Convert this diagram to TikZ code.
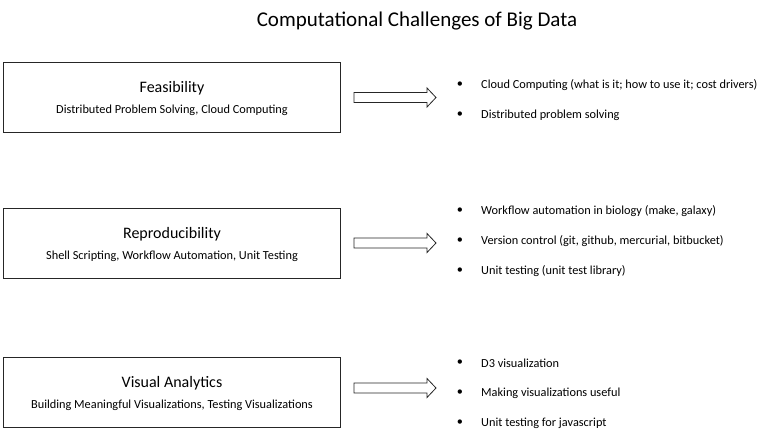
\documentclass[tikz,border=0pt]{standalone}
\usepackage{fontspec}
\setmainfont{Carlito}
\tikzset{
  topic/.style={draw=black!85, line width=1pt, minimum width=337pt, minimum height=70pt, inner sep=0pt, anchor=west},
  topictitle/.style={font=\fontsize{16}{19}\selectfont, inner sep=0pt},
  topicsub/.style={font=\fontsize{12.3}{14}\selectfont, inner sep=0pt},
  dot/.style={font=\fontsize{12.3}{14}\selectfont, inner sep=0pt},
  item/.style={anchor=west, font=\fontsize{12.3}{14}\selectfont, inner sep=0pt},
  blockarrow/.style={draw=black!85, line width=0.8pt, fill=white, line join=miter},
}
\begin{document}
\begin{tikzpicture}[x=1pt, y=-1pt]
                \useasboundingbox (0,0) rectangle (760,431);

                \node[font=\fontsize{21}{25}\selectfont] (title) at (417,21) {Computational Challenges of Big Data};

                % the three topics
                \node[topic] (feas) at (3,97) {};
                \node[topictitle] (feastitle) at ([yshift=9pt]feas.center) {Feasibility};
                \node[topicsub] (feassub) at ([yshift=-13pt]feas.center) {Distributed Problem Solving, Cloud Computing};

                \node[topic] (repro) at (3,243.5) {};
                \node[topictitle] (reprotitle) at ([yshift=9pt]repro.center) {Reproducibility};
                \node[topicsub] (reprosub) at ([yshift=-13pt]repro.center) {Shell Scripting, Workflow Automation, Unit Testing};

                \node[topic] (vis) at (3,392) {};
                \node[topictitle] (vistitle) at ([yshift=9pt]vis.center) {Visual Analytics};
                \node[topicsub] (vissub) at ([yshift=-13pt]vis.center) {Building Meaningful Visualizations, Testing Visualizations};

                % block arrows
                \coordinate (feasarr) at (354,97.5);
                \coordinate (reproarr) at (354,243);
                \coordinate (visarr) at (354,388);
                \draw[blockarrow] (feasarr) ++(0,-5) -- ++(73,0) -- ++(0,-4.5) -- ++(9,9.5) -- ++(-9,9.5) -- ++(0,-4.5) -- ++(-73,0) -- cycle;
                \draw[blockarrow] (reproarr) ++(0,-5) -- ++(73,0) -- ++(0,-4.5) -- ++(9,9.5) -- ++(-9,9.5) -- ++(0,-4.5) -- ++(-73,0) -- cycle;
                \draw[blockarrow] (visarr) ++(0,-5) -- ++(73,0) -- ++(0,-4.5) -- ++(9,9.5) -- ++(-9,9.5) -- ++(0,-4.5) -- ++(-73,0) -- cycle;

                % bullet lists
                \node[dot] (f1b) at (460,85) {\textbullet};
                \node[item] (f1) at (481,85) {Cloud Computing (what is it; how to use it; cost drivers)};
                \node[dot] (f2b) at (460,115) {\textbullet};
                \node[item] (f2) at (481,115) {Distributed problem solving};

                \node[dot] (r1b) at (460,211) {\textbullet};
                \node[item] (r1) at (481,211) {Workflow automation in biology (make, galaxy)};
                \node[dot] (r2b) at (460,241) {\textbullet};
                \node[item] (r2) at (481,241) {Version control (git, github, mercurial, bitbucket)};
                \node[dot] (r3b) at (460,271) {\textbullet};
                \node[item] (r3) at (481,271) {Unit testing (unit test library)};

                \node[dot] (v1b) at (460,363) {\textbullet};
                \node[item] (v1) at (481,363) {D3 visualization};
                \node[dot] (v2b) at (460,393) {\textbullet};
                \node[item] (v2) at (481,393) {Making visualizations useful};
                \node[dot] (v3b) at (460,423) {\textbullet};
                \node[item] (v3) at (481,423) {Unit testing for javascript};

            \end{tikzpicture}
\end{document}
